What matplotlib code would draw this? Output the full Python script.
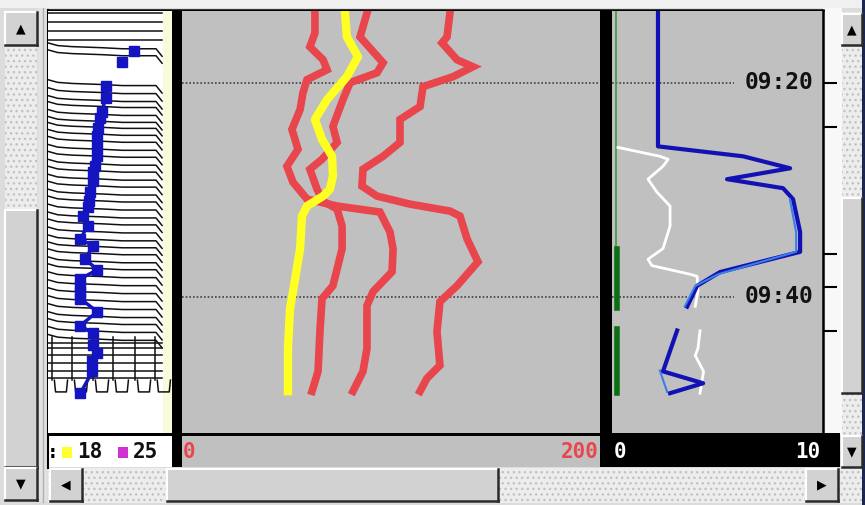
import numpy as np
import matplotlib
matplotlib.use('Agg')
import matplotlib.pyplot as plt
from matplotlib.patches import Rectangle

W, H = 865, 505
nan = np.nan

# time axis in minutes after 09:00 (top of panels -> bottom of panels)
T_TOP, T_BOT = 13.3, 52.74
grid_t = [20, 40]
grid_labels = ['09:20', '09:40']
tick_t = [20, 24.1, 36.0, 39.1, 43.2]

# middle track (0..200)
mid_range = [0, 200]
red1_t = [13.49, 15.35, 16.65, 17.86, 18.79, 19.72, 20.93, 22.51, 24.37, 26.23, 27.81, 29.30,
          30.88, 31.53, 32.09, 33.95, 35.53, 37.67, 39.53, 40.84, 44.84, 46.98, 48.84]
red1_v = [63.6, 63.6, 61.2, 67.5, 69.4, 59.8, 57.9, 56.5, 52.6, 55.5, 50.2, 53.1,
          59.8, 74.2, 94.7, 99.5, 101.0, 100.5, 91.4, 88.5, 88.5, 86.6, 81.8]
red2_t = [13.49, 15.72, 18.14, 19.07, 20.0, 21.58, 24.09, 25.58, 27.16, 28.09, 29.95, 31.07,
          31.81, 33.40, 35.53, 38.98, 40.19, 43.26, 46.98, 48.84]
red2_v = [88.5, 85.2, 96.2, 93.3, 80.4, 77.0, 72.2, 74.2, 67.0, 61.2, 64.6, 67.5,
          74.2, 76.6, 76.6, 72.2, 67.0, 66.0, 65.1, 62.2]
red3_t = [13.49, 15.72, 16.28, 17.86, 18.51, 19.44, 20.37, 22.23, 23.44, 25.58, 26.88, 28.09,
          29.67, 30.60, 31.35, 32.0, 32.47, 34.60, 36.74, 38.98, 40.47, 43.26, 46.42, 47.63, 48.84]
red3_v = [128.2, 126.8, 124.4, 131.6, 139.2, 129.7, 115.3, 113.9, 104.3, 104.3, 96.2, 86.6,
          86.1, 93.3, 109.1, 128.2, 133.0, 136.4, 141.6, 131.6, 123.4, 122.0, 123.4, 117.2, 113.9]
yel_t = [13.49, 15.72, 17.58, 19.44, 21.58, 23.44, 25.30, 26.88, 28.74, 29.95, 30.60, 31.53,
         32.47, 35.53, 39.53, 41.12, 44.84, 48.84]
yel_v = [78.0, 78.9, 84.2, 78.9, 69.4, 63.6, 67.0, 71.8, 72.2, 70.8, 67.5, 59.8,
         57.4, 56.5, 53.1, 51.7, 50.7, 50.7]

# right track (0..10)
right_range = [0, 10]
blue_t = [13.3, 25.95, 26.88, 28.0, 29.02, 29.86, 30.88, 33.95, 35.81, 37.7, 38.98, 40.93,
          nan, 43.16, 46.98, 48.09, 49.02]
blue_v = [2.21, 2.21, 6.30, 8.56, 5.53, 8.22, 8.70, 9.04, 9.04, 5.19, 4.09, 3.61,
          nan, 3.13, 2.45, 4.38, 2.79]
lblue_t = [30.9, 34.0, 35.8, 37.9, 39.0, 40.9, nan, 46.9, 48.9]
lblue_v = [8.55, 8.85, 8.85, 5.1, 4.0, 3.5, nan, 2.3, 2.65]
white_t = [26.05, 26.88, 27.16, 27.81, 29.02, 30.23, 31.53, 33.40, 35.5, 36.5, 37.1, 37.9,
           38.1, 39.5, 40.9, nan, 43.2, 44.84, 45.5, 46.98, 49.02]
white_v = [0.29, 2.30, 2.70, 2.45, 1.73, 2.16, 2.79, 2.79, 2.45, 1.73, 1.92, 3.75,
           4.09, 4.13, 4.00, nan, 4.23, 4.13, 4.00, 4.40, 4.23]
green_thin_t = [13.3, 35.6]
green_thin_v = [0.2, 0.2]
green_t = [35.5, 41.1, nan, 43.0, 49.0]
green_v = [0.25, 0.25, nan, 0.25, 0.25]

# left track (wiggle traces + picks)
flat_t = [13.49, 14.33, 15.16, 16.0, 44.37, 44.84, 45.49, 46.23, 46.98, 47.63]
trace_t = [16.28, 16.93, 19.72, 20.47, 21.21, 21.77, 22.51, 23.16, 23.72, 24.37, 25.02,
           25.77, 26.42, 27.16, 27.81, 28.56, 29.21, 29.95, 30.60, 31.35, 32.09, 32.74,
           33.49, 34.23, 34.88, 35.53, 36.28, 36.93, 37.67, 38.42, 39.16, 39.91, 40.65,
           41.40, 42.05, 42.79, 43.53]
shape_x = [0, 8, 20, 45, 62, 90, 95]
shape_dt = [0, 0.25, 0.35, 0.45, 0.55, 0.55, 1.25]
comb_x = [3.3, 20, 37.5, 54, 72.5, 89]
comb_t = [43.8, 47.8]
pick_t = [17.02, 18.05, 20.28, 21.40, 22.70, 23.26, 24.19, 25.02, 25.95, 26.88, 27.81, 28.37,
          29.21, 30.23, 31.07, 31.63, 32.47, 33.40, 34.60, 35.26, 36.47, 37.49, 38.33, 38.98,
          39.53, 40.19, 41.40, 42.70, 43.44, 44.56, 45.30, 46.05, 46.98, 49.02]
pick_x = [72, 62, 48, 48, 45, 43, 42, 41, 41, 41, 39, 37.5, 37.5, 35, 34, 33, 29, 33, 27,
          37.5, 31, 41, 27, 27, 27, 27, 41, 27, 37.5, 37.5, 41, 37, 37, 27]
legend_vals = ['18', '25']
legend_cols = ['#ffff30', '#d030d0']

RED = '#e8464c'
MONO = 'DejaVu Sans Mono'
plt.rcParams['hatch.color'] = '#c2c2c2'
plt.rcParams['hatch.linewidth'] = 1.0

fig = plt.figure(figsize=(W / 100, H / 100), dpi=100)
fig.patch.set_facecolor('#dcdcdc')


def box(x0, y0, x1, y1):
    return [x0 / W, 1 - y1 / H, (x1 - x0) / W, (y1 - y0) / H]


ui = fig.add_axes([0, 0, 1, 1])
ui.set_xlim(0, W)
ui.set_ylim(H, 0)
ui.axis('off')


def rect(x0, y0, x1, y1, **kw):
    ui.add_patch(Rectangle((x0, y0), x1 - x0, y1 - y0, **kw))


def track(x0, y0, x1, y1):
    rect(x0, y0, x1, y1, fc='#ededed', ec='#c2c2c2', lw=0, hatch='...')


def raised(x0, y0, x1, y1, glyph=None):
    rect(x0, y0, x1, y1, fc='#d2d2d2', ec='none')
    ui.plot([x0, x1], [y0, y0], color='white', lw=1.5)
    ui.plot([x0, x0], [y0, y1], color='white', lw=1.5)
    ui.plot([x0, x1], [y1, y1], color='#2a2a2a', lw=1.8)
    ui.plot([x1, x1], [y0, y1], color='#2a2a2a', lw=1.8)
    if glyph:
        ui.text((x0 + x1) / 2, (y0 + y1) / 2, glyph, ha='center', va='center',
                fontsize=9, color='black')


# window chrome
rect(0, 0, W, 8, fc='#f0f0f0')
rect(862, 0, W, H, fc='#1c2652')
rect(823, 8, 842, 435, fc='#f8f8f8')
rect(38, 8, 47, 502, fc='#e2e2e2')
ui.plot([43, 43], [8, 502], color='#b0b0b0', lw=1)

# left vertical scrollbar
track(5, 45, 37, 468)
raised(5, 210, 37, 467)
raised(5, 12, 37, 45, '▲')
raised(5, 468, 37, 500, '▼')

# right vertical scrollbar
track(842, 12, 862, 467)
raised(842, 198, 862, 393)
raised(842, 14, 862, 45, '▲')
raised(842, 436, 862, 467, '▼')

# horizontal scrollbar
track(48, 468, 862, 503)
raised(167, 469, 498, 501)
raised(50, 469, 82, 501, '◀')
raised(806, 469, 838, 501, '▶')

# panel frames and bottom strips
rect(48, 436, 172, 467, fc='white')
rect(182, 436, 600, 467, fc='#c0c0c0')
rect(48, 433, 600, 436, fc='black')
rect(600, 433, 840, 467, fc='black')
rect(172, 10, 182, 467, fc='black')
rect(600, 10, 612, 467, fc='black')
ui.plot([48, 823], [10, 10], color='black', lw=1.8)
ui.plot([48, 48], [10, 468], color='black', lw=1.5)

# legend below left track
ui.text(47, 452, ':', ha='left', va='center', fontsize=14, fontweight='bold', family=MONO)
for (x0, col, val) in zip([62, 118], legend_cols, legend_vals):
    rect(x0, 447, x0 + 10, 458, fc=col)
    ui.text(x0 + 15, 452, val, ha='left', va='center', fontsize=15, fontweight='bold',
            family=MONO, color='#101010')

# axis range labels
ui.text(183, 452, str(mid_range[0]), ha='left', va='center', fontsize=15, fontweight='bold',
        family=MONO, color=RED)
ui.text(599, 452, str(mid_range[1]), ha='right', va='center', fontsize=15, fontweight='bold',
        family=MONO, color=RED)
ui.text(614, 452, str(right_range[0]), ha='left', va='center', fontsize=15, fontweight='bold',
        family=MONO, color='white')
ui.text(820, 452, str(right_range[1]), ha='right', va='center', fontsize=15, fontweight='bold',
        family=MONO, color='white')


def panel(x0, x1, xlim, face):
    ax = fig.add_axes(box(x0, 11, x1, 433))
    ax.set_facecolor(face)
    ax.set_xlim(*xlim)
    ax.set_ylim(T_BOT, T_TOP)
    for s in ax.spines.values():
        s.set_visible(False)
    ax.set_xticks([])
    ax.set_yticks([])
    return ax


# left track
axl = panel(48, 172, (0, 103.3), 'white')
axl.axvspan(95.8, 103.3, color='#fafadc', lw=0)
for t in flat_t:
    axl.plot([0, 95], [t, t], color='#111111', lw=1.1)
for t in trace_t:
    axl.plot(shape_x, [t + d for d in shape_dt], color='#111111', lw=1.1)
for c in comb_x:
    axl.plot([c, c], comb_t, color='#111111', lw=1.1)
    axl.plot([c + 2, c + 3, c + 12, c + 13], [comb_t[1], 48.9, 48.9, comb_t[1]],
             color='#111111', lw=1.1)
axl.plot(pick_x[2:], pick_t[2:], color='#1414c0', lw=2.5)
axl.plot(pick_x, pick_t, ls='none', marker='s', ms=7, color='#1414c0')

# middle track
axm = panel(182, 600, mid_range, '#c0c0c0')
for t in grid_t:
    axm.axhline(t, color='#404040', lw=1.2, ls=(0, (1, 1.2)))
for tt, vv in [(red1_t, red1_v), (red2_t, red2_v), (red3_t, red3_v)]:
    axm.plot(vv, tt, color=RED, lw=5.5, solid_joinstyle='miter')
axm.plot(yel_v, yel_t, color='#ffff22', lw=6)

# right track
axr = panel(612, 823, (0, 10.14), '#c0c0c0')
axr.spines['right'].set_visible(True)
axr.spines['right'].set_linewidth(1.8)
axr.yaxis.tick_right()
axr.set_yticks(tick_t)
axr.tick_params(axis='y', direction='out', length=10, width=1.5, labelright=False)
for t, lab in zip(grid_t, grid_labels):
    axr.axhline(t, xmax=0.58, color='#404040', lw=1.2, ls=(0, (1, 1.2)))
    axr.text(9.7, t, lab, ha='right', va='center', fontsize=16.5, fontweight='bold',
             family=MONO, color='#111111')
axr.plot(green_thin_v, green_thin_t, color='#3c9a3c', lw=1.2)
axr.plot(green_v, green_t, color='#0b6e12', lw=4)
axr.plot(white_v, white_t, color='white', lw=2)
axr.plot(blue_v, blue_t, color='#1212b4', lw=3)
axr.plot(lblue_v, lblue_t, color='#3a7ee8', lw=1.5)

fig.savefig('out.png', dpi=100, facecolor=fig.get_facecolor())
